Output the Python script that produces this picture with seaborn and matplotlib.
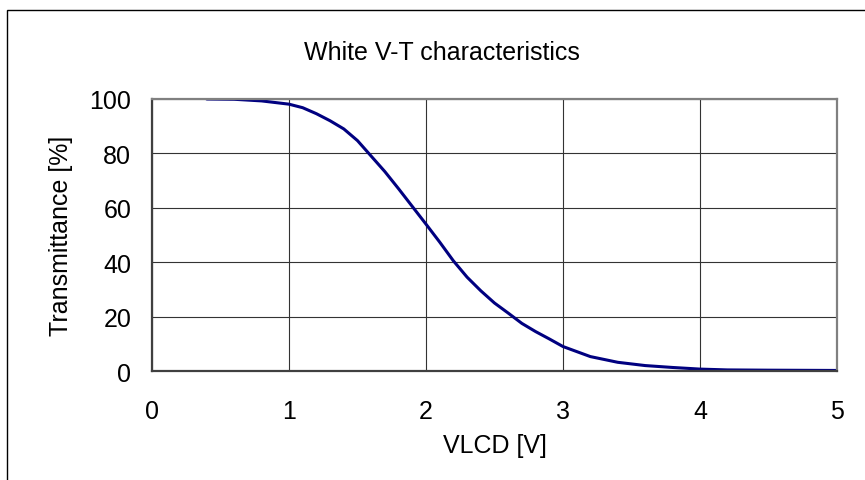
import numpy as np
import pandas as pd
import matplotlib
matplotlib.use("Agg")
import matplotlib.pyplot as plt
import matplotlib.patches as patches
import seaborn as sns

# ---- data ----
vlcd = [0.4, 0.6, 0.8, 1.0, 1.1, 1.2, 1.3, 1.4, 1.5, 1.6, 1.7, 1.8, 1.9,
        2.0, 2.1, 2.2, 2.3, 2.4, 2.5, 2.6, 2.7, 2.8, 2.9, 3.0, 3.2, 3.4,
        3.6, 3.8, 4.0, 4.2, 4.5, 5.0]
transmittance = [100.0, 99.9, 99.3, 98.1, 96.8, 94.6, 92.0, 89.0, 84.7, 79.0,
                 73.3, 67.0, 60.5, 54.0, 47.4, 40.5, 34.5, 29.5, 25.0, 21.3,
                 17.5, 14.5, 11.8, 9.0, 5.3, 3.2, 2.0, 1.3, 0.7, 0.4, 0.3, 0.2]
x_ticks = [0, 1, 2, 3, 4, 5]
y_ticks = [0, 20, 40, 60, 80, 100]

df = pd.DataFrame({"VLCD": vlcd, "T": transmittance})

sns.set_style("white")
plt.rcParams["font.family"] = ["Liberation Sans", "DejaVu Sans"]
plt.rcParams["text.color"] = "black"
plt.rcParams["axes.labelcolor"] = "black"

FS = 18

fig = plt.figure(figsize=(8.65, 4.81), dpi=100)
ax = fig.add_axes([0.1757, 0.2266, 0.7919, 0.5655])

sns.lineplot(data=df, x="VLCD", y="T", ax=ax, color="#000080", linewidth=2.2)

ax.set_xlim(0, 5)
ax.set_ylim(0, 100)
ax.set_xticks(x_ticks)
ax.set_yticks(y_ticks)
ax.grid(True, color="#333333", linewidth=0.8)
ax.tick_params(axis="x", direction="in", length=4, width=1.2, color="#333333",
               labelsize=FS, labelcolor="black", pad=20)
ax.tick_params(axis="y", direction="in", length=4, width=1.2, color="#333333",
               labelsize=FS, labelcolor="black", pad=15)

for side in ["top", "right"]:
    ax.spines[side].set_color("#808080")
    ax.spines[side].set_linewidth(1.6)
for side in ["left", "bottom"]:
    ax.spines[side].set_color("#404040")
    ax.spines[side].set_linewidth(1.6)
    ax.spines[side].set_visible(True)

ax.set_xlabel("VLCD [V]", fontsize=FS, labelpad=7)
ax.set_ylabel("Transmittance [%]", fontsize=FS, labelpad=12)

fig.text(442 / 865, 1 - 53 / 481, "White V-T characteristics",
         ha="center", va="center", fontsize=FS)

# outer chart frame (only left and top visible in the crop)
frame = patches.Rectangle((6.5 / 865, -0.1), 1.2, 1 - 11 / 481 + 0.1,
                          transform=fig.transFigure, fill=False,
                          edgecolor="black", linewidth=1.0, clip_on=False)
fig.patches.append(frame)

plt.savefig("out.png", dpi=100)
plt.close()
